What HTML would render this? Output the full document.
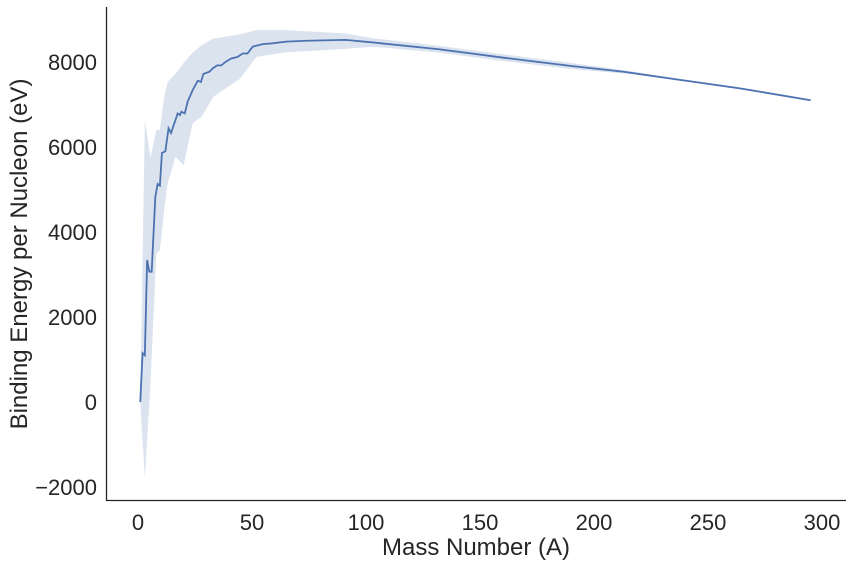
<!DOCTYPE html>
<html><head><meta charset="utf-8"><style>
body{margin:0;background:#fff}
svg{display:block;font-family:"Liberation Sans",sans-serif;fill:#262626}
</style></head><body>
<svg id="chart" width="853" height="565" viewBox="0 0 853 565" xmlns="http://www.w3.org/2000/svg">
<g id="plot"></g>
<line x1="106.5" y1="7" x2="106.5" y2="500.5" stroke="#262626" stroke-width="1.3"/>
<line x1="106" y1="500.5" x2="846" y2="500.5" stroke="#262626" stroke-width="1.3"/>
<g id="xticks"></g>
<g id="yticks"></g>
<text x="476" y="555" font-size="24" text-anchor="middle">Mass Number (A)</text>
<text transform="translate(27,254) rotate(-90)" font-size="24" text-anchor="middle">Binding Energy per Nucleon (eV)</text>
</svg>
<script>
const massNumbers=[1,2,3,4,5,6,7.6,8.6,9.6,10.5,12,13.4,14.5,17.4,18.4,19,20.5,21.8,24,26.2,27.6,28.7,31.3,32.8,34.7,36.5,38.6,40.8,43.7,45.9,48,50.3,54.7,59,65,74,91,103,132,162,191,213,235,264,295];
const meanEnergy=[0,1150,1100,3340,3066,3066,4830,5130,5090,5860,5900,6440,6330,6790,6750,6830,6790,7070,7340,7560,7530,7720,7770,7850,7920,7920,8010,8080,8120,8200,8200,8360,8420,8440,8480,8500,8520,8460,8300,8090,7900,7770,7600,7380,7100];
const bandA=[1,3,5.5,8,9.6,11.5,13,16.5,20,24,28,33,44.6,52,65,91,103,132,162,191,213,220,235,264,295];
const bandUpper=[0,6630,5750,6400,6400,7180,7530,7720,7980,8220,8400,8550,8650,8750,8750,8670,8560,8380,8170,7970,7810,7750,7620,7400,7120];
const bandLower=[0,-1790,450,3500,3570,4520,5150,5770,5570,6560,6720,7180,7600,8120,8230,8310,8360,8220,8010,7830,7730,7700,7580,7360,7080];
const xTicks=[0,50,100,150,200,250,300];
const yTicks=[-2000,0,2000,4000,6000,8000];
const X=a=>138+a*2.28;
const Y=e=>402-e*0.0425;
const NS="http://www.w3.org/2000/svg";
const plot=document.getElementById('plot');
let d='';
bandA.forEach((a,i)=>{d+=(i?'L':'M')+X(a)+','+Y(bandUpper[i]);});
for(let i=bandA.length-1;i>=0;i--)d+='L'+X(bandA[i])+','+Y(bandLower[i]);
const band=document.createElementNS(NS,'path');
band.setAttribute('d',d+'Z');band.setAttribute('fill','#4c72b0');band.setAttribute('fill-opacity','0.2');


plot.appendChild(band);
const line=document.createElementNS(NS,'path');
line.setAttribute('d',massNumbers.map((a,i)=>(i?'L':'M')+X(a)+','+Y(meanEnergy[i])).join(''));
line.setAttribute('fill','none');line.setAttribute('stroke','#4c72b0');line.setAttribute('stroke-width','1.8');


plot.appendChild(line);
const xg=document.getElementById('xticks');
xTicks.forEach(v=>{const t=document.createElementNS(NS,'text');t.setAttribute('x',X(v));t.setAttribute('y',530);t.setAttribute('font-size','22');t.setAttribute('text-anchor','middle');t.textContent=v;


xg.appendChild(t);});
const yg=document.getElementById('yticks');
yTicks.forEach(v=>{const t=document.createElementNS(NS,'text');t.setAttribute('x',97);t.setAttribute('y',Y(v)+8);t.setAttribute('font-size','22');t.setAttribute('text-anchor','end');t.textContent=v<0?'\u2212'+Math.abs(v):v;


yg.appendChild(t);});
</script>
</body></html>
